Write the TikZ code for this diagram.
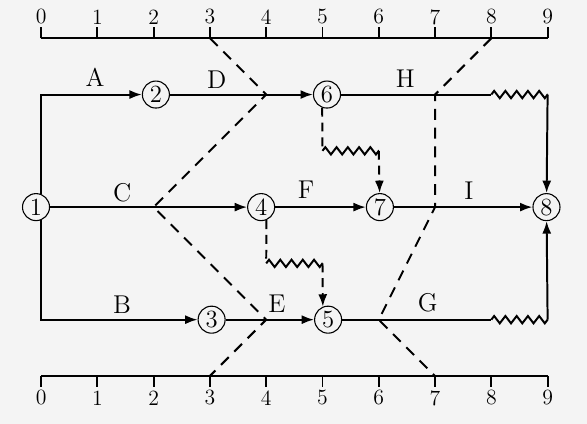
\documentclass[tikz,border=0pt]{standalone}
\usetikzlibrary{arrows.meta,decorations.pathmorphing}
\definecolor{bg}{RGB}{244,244,244}
\begin{document}
\begin{tikzpicture}[
		ev/.style={draw,circle,line width=0.55pt,fill=bg,inner sep=0pt,minimum size=0.48cm,font=\fontsize{12.5}{12.5}\selectfont},
		act/.style={line width=1pt,-{Latex[length=2.2mm,width=1.6mm]}},
		plain/.style={line width=1pt},
		virt/.style={act,dash pattern=on 4.5pt off 3pt},
		vline/.style={plain,dash pattern=on 4.5pt off 3pt},
		check/.style={plain,dash pattern=on 5.5pt off 4pt},
		wave/.style={plain,decorate,decoration={zigzag,segment length=0.2cm,amplitude=0.065cm}},
		lab/.style={font=\fontsize{13}{13}\selectfont}]
		\useasboundingbox[fill=bg] (-0.73,-3.85) rectangle (9.70,3.68);

		\draw[plain] (0,3) -- (9,3);
		\draw[plain] (0,-3) -- (9,-3);
		\foreach \i in {0,...,9}{
			\draw[plain] (\i,3) coordinate (t\i) -- ++(0,0.2);
			\draw[plain] (\i,-3) coordinate (b\i) -- ++(0,-0.2);
			\draw (\i,3.38) node (nt\i)[font=\fontsize{11}{11}\selectfont]{\i};
			\draw (\i,-3.39) node (nb\i)[font=\fontsize{11}{11}\selectfont]{\i};
		}

		\draw (-0.09,0) node (v1)[ev]{1};
		\draw (2.04,2) node (v2)[ev]{2};
		\draw (3.03,-2) node (v3)[ev]{3};
		\draw (3.91,0) node (v4)[ev]{4};
		\draw (5.10,-2) node (v5)[ev]{5};
		\draw (5.08,2) node (v6)[ev]{6};
		\draw (6.02,0) node (v7)[ev]{7};
		\draw (8.98,0) node (v8)[ev]{8};

		\draw[act] (v1.68) |- (v2);
		\draw[act] (v1.-68) |- (v3);
		\draw[act] (v1) -- (v4);
		\draw[act] (v2) -- (v6);
		\draw[act] (v3) -- (v5);
		\draw[act] (v4) -- (v7);
		\draw[act] (v7) -- (v8);

		\draw[plain] (v6) -- (8,2) coordinate (h8);
		\draw[wave] (h8) -- (9,2) coordinate (h9);
		\draw[act] (h9) -- (v8);
		\draw[plain] (v5) -- (8,-2) coordinate (g8);
		\draw[wave] (g8) -- (9,-2) coordinate (g9);
		\draw[act] (g9) -- (v8);

		\draw[vline] (v6.250) -- (5,1) coordinate (w1);
		\draw[wave] (w1) -- (6,1) coordinate (w2);
		\draw[virt] (w2) -- (v7);
		\draw[vline] (v4.292) -- (4,-1) coordinate (w3);
		\draw[wave] (w3) -- (5,-1) coordinate (w4);
		\draw[virt] (w4) -- (v5.112);

		\draw[check] (t3) -- (4,2) -- (2,0) -- (4,-2) -- (b3);
		\draw[check] (t8) -- (7,2) -- (7,0) -- (6,-2) -- (b7);

		\draw (0.96,2.31) node (la)[lab]{A};
		\draw (3.12,2.27) node (ld)[lab]{D};
		\draw (6.47,2.29) node (lh)[lab]{H};
		\draw (1.44,0.26) node (lc)[lab]{C};
		\draw (4.71,0.31) node (lf)[lab]{F};
		\draw (7.60,0.30) node (li)[lab]{I};
		\draw (1.44,-1.74) node (lb)[lab]{B};
		\draw (4.19,-1.72) node (le)[lab]{E};
		\draw (6.87,-1.70) node (lg)[lab]{G};
	\end{tikzpicture}
\end{document}
